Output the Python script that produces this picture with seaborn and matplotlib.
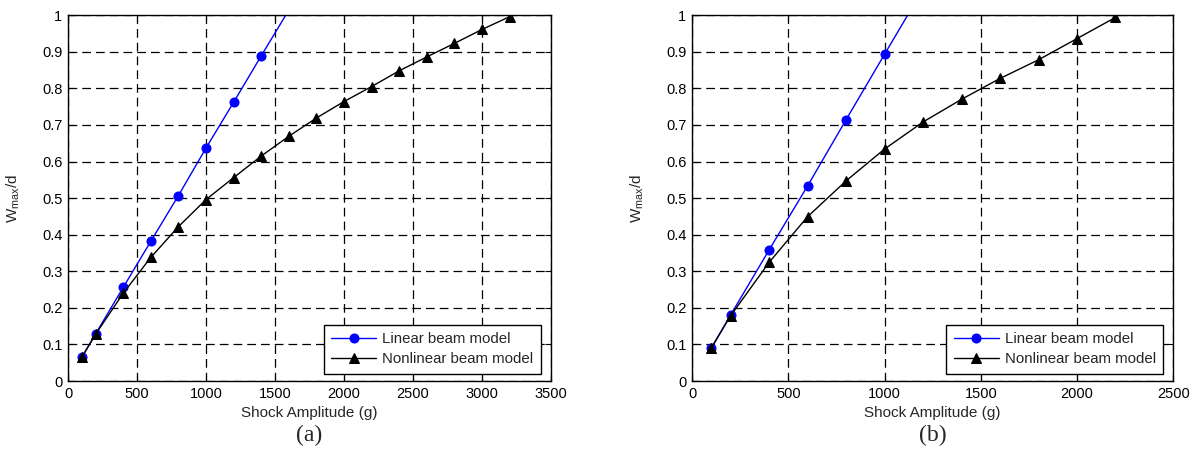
import seaborn as sns
import matplotlib.pyplot as plt

# panel (a)
amp_a_lin = [100, 200, 400, 600, 800, 1000, 1200, 1400, 1600]
w_a_lin = [0.065, 0.129, 0.256, 0.382, 0.507, 0.637, 0.762, 0.889, 1.014]
amp_a_non = [100, 200, 400, 600, 800, 1000, 1200, 1400, 1600, 1800, 2000,
             2200, 2400, 2600, 2800, 3000, 3200]
w_a_non = [0.065, 0.128, 0.240, 0.338, 0.422, 0.496, 0.556, 0.615, 0.669, 0.719,
           0.764, 0.805, 0.848, 0.886, 0.923, 0.961, 0.996]

# panel (b)
amp_b_lin = [100, 200, 400, 600, 800, 1000, 1200]
w_b_lin = [0.089, 0.180, 0.358, 0.533, 0.714, 0.893, 1.071]
amp_b_non = [100, 200, 400, 600, 800, 1000, 1200, 1400, 1600, 1800, 2000, 2200]
w_b_non = [0.091, 0.178, 0.324, 0.449, 0.547, 0.634, 0.708, 0.770, 0.827,
           0.878, 0.936, 0.994]

xticks_a = [0, 500, 1000, 1500, 2000, 2500, 3000, 3500]
xticks_b = [0, 500, 1000, 1500, 2000, 2500]
yticks = [0, 0.1, 0.2, 0.3, 0.4, 0.5, 0.6, 0.7, 0.8, 0.9, 1]
ytick_labels = ['0', '0.1', '0.2', '0.3', '0.4', '0.5', '0.6', '0.7', '0.8', '0.9', '1']
panel_tags = ['(a)', '(b)']

sns.set_style('ticks')
plt.rcParams['font.family'] = ['Liberation Sans', 'DejaVu Sans']
plt.rcParams['mathtext.default'] = 'regular'
plt.rcParams['font.size'] = 10.5

fig = plt.figure(figsize=(12, 4.66), dpi=100)
ax_a = fig.add_axes([0.0567, 0.1824, 0.4025, 0.785])
ax_b = fig.add_axes([0.5767, 0.1824, 0.401, 0.785])

panels = [
    (ax_a, amp_a_lin, w_a_lin, amp_a_non, w_a_non, xticks_a),
    (ax_b, amp_b_lin, w_b_lin, amp_b_non, w_b_non, xticks_b),
]

for i, (ax, xl, yl, xn, yn, xt) in enumerate(panels):
    sns.lineplot(x=xl, y=yl, ax=ax, color='#0000ff', lw=1, marker='o',
                 markersize=6.5, markeredgecolor='#0000ff', label='Linear beam model')
    sns.lineplot(x=xn, y=yn, ax=ax, color='black', lw=1, marker='^',
                 markersize=7.5, markeredgecolor='black', label='Nonlinear beam model')
    ax.set_xlim(xt[0], xt[-1])
    ax.set_ylim(0, 1)
    ax.set_xticks(xt)
    ax.set_xticklabels([str(v) for v in xt])
    ax.set_yticks(yticks)
    ax.set_yticklabels(ytick_labels)
    ax.grid(True, color='black', ls=(0, (7, 4)), lw=0.9)
    ax.tick_params(direction='in', length=4, width=0.8, top=True, right=True,
                   labelsize=10.5, colors='black', pad=4)
    for s in ax.spines.values():
        s.set_visible(True)
        s.set_color('black')
        s.set_linewidth(1)
    ax.set_xlabel('Shock Amplitude (g)', fontsize=11, labelpad=4)
    ax.set_ylabel('W$_{max}$/d', fontsize=11)
    ax.yaxis.set_label_coords(-0.095, 0.5)
    leg = ax.legend(loc='lower right', bbox_to_anchor=(0.979, 0.02), borderaxespad=0,
                    fontsize=10.8, handlelength=3.0, handletextpad=0.4,
                    fancybox=False, framealpha=1, edgecolor='black',
                    borderpad=0.5, labelspacing=0.4)
    leg.get_frame().set_linewidth(1)
    ax.text(0.5, -0.12, panel_tags[i], transform=ax.transAxes, ha='center', va='top',
            fontsize=17, family=['Liberation Serif', 'DejaVu Serif'])

fig.savefig('out.png', dpi=100)
